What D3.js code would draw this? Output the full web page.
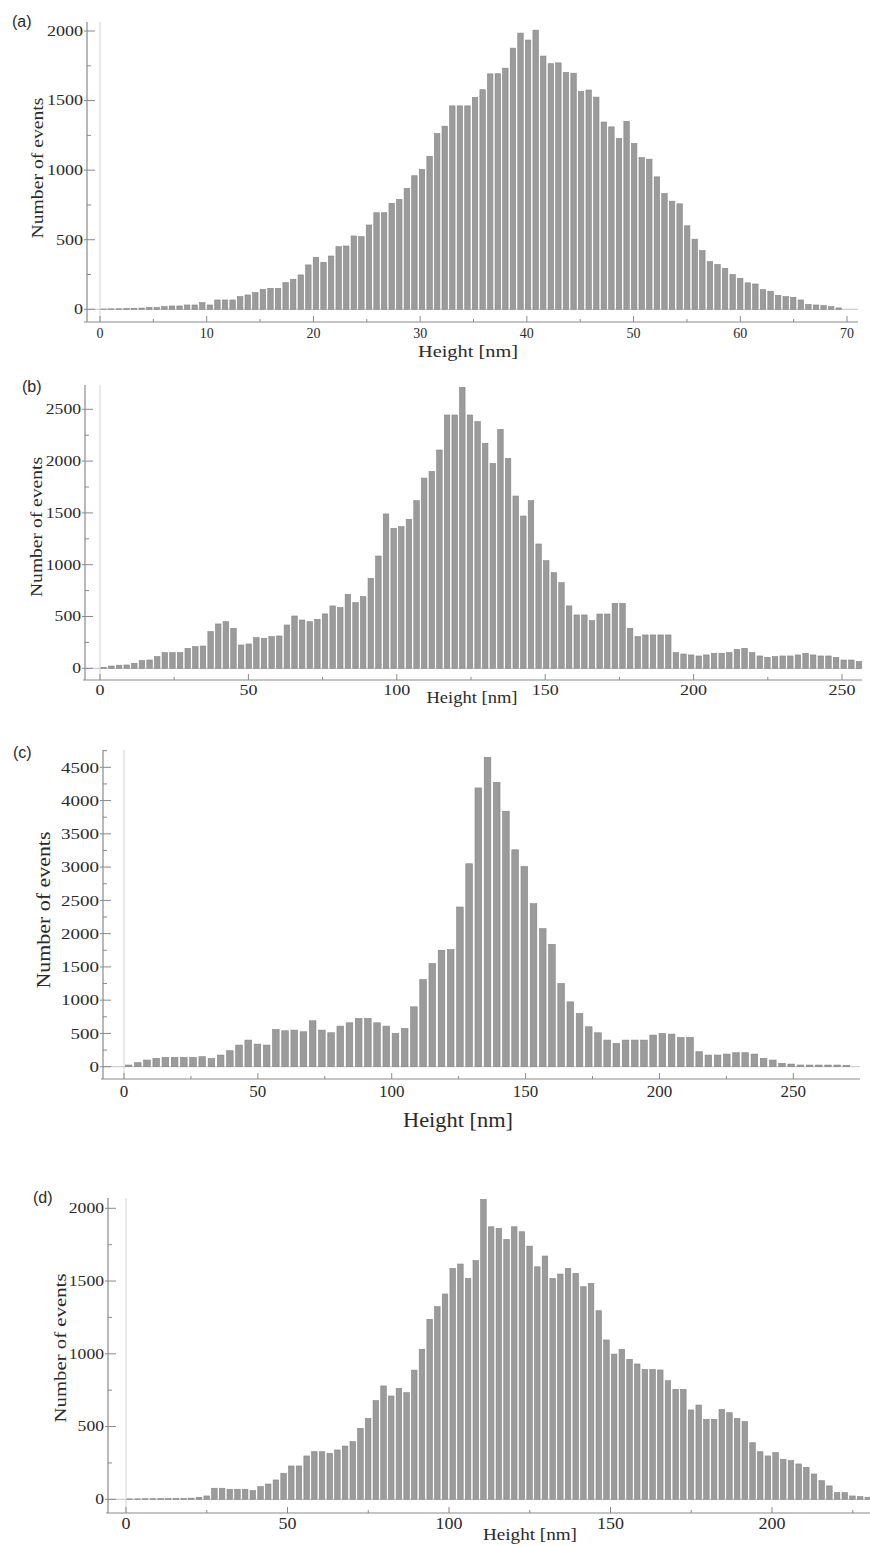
<!DOCTYPE html>
<html><head><meta charset="utf-8">
<script src="https://cdn.jsdelivr.net/npm/d3@7"></script>
<style>body{margin:0;background:#fff}svg{display:block}</style>
</head><body>
<svg id="chart" width="870" height="1546"></svg>
<script>
// ---------- data ----------
const countsA = [0,0,2,3,4,5,7,9,
 14,14,19,24,24,31,31,48,31,67,67,67,91,103,120,144,151,
 151,192,216,247,319,374,338,383,450,455,527,522,606,694,694,762,790,869,960,1005,1100,1263,1316,1462,1462,
 1462,1523,1578,1692,1693,1733,1877,1985,1935,2006,1820,1765,1771,1702,1697,1565,1576,1525,1346,1311,1228,1350,1192,1090,1079,
 952,832,777,758,600,504,422,343,322,295,250,223,190,182,141,130,100,91,86,67,35,31,27,19,10];
const countsB = [10,22,30,32,48,74,80,113,151,151,151,193,209,215,354,428,450,386,225,235,
 296,290,306,312,418,505,466,450,473,525,602,586,714,634,692,869,1084,1490,1351,1367,
 1438,1618,1836,1900,2107,2445,2445,2712,2445,2381,2171,1978,2307,2027,1663,1470,1618,1200,1039,923,
 827,602,515,515,460,524,524,627,627,386,306,322,322,322,322,151,138,129,119,129,
 145,145,151,183,193,151,119,106,113,119,119,129,145,129,119,119,106,80,80,64];
const countsC = [0,25,60,100,125,140,140,140,140,150,125,175,240,325,400,340,325,560,540,550,525,690,550,510,610,660,725,725,660,610,500,575,900,1310,1550,1750,
 1760,2400,3050,4190,4650,4275,3840,3260,3010,2450,2075,1840,1250,975,800,600,510,400,350,400,400,400,475,500,490,440,440,225,175,175,190,210,210,190,125,100,50,40,25,25,25,25,25,20];
const countsD = [3,3,4,4,5,5,6,6,8,
 14,23,76,76,69,69,69,60,87,105,133,179,229,229,298,327,327,316,339,366,396,488,556,678,779,710,763,733,888,1031,1237,1324,
 1411,1587,1617,1518,1640,2061,1873,1862,1786,1873,1839,1740,1598,1672,1518,1548,1587,1553,1461,1484,1296,1095,998,1031,962,930,893,893,889,815,756,756,614,648,550,550,618,595,556,534,389,327,298,321,275,266,243,220,174,128,92,46,46,23,18,14,
 10,8,5];

const binWidths = {a:0.71, b:2.57, c:3.4375, d:2.38};
const xTicksA = [0,10,20,30,40,50,60,70];
const yTicksA = [0,500,1000,1500,2000];
const xTicksB = [0,50,100,150,200,250];
const yTicksB = [0,500,1000,1500,2000,2500];
const xTicksC = [0,50,100,150,200,250];
const yTicksC = [0,500,1000,1500,2000,2500,3000,3500,4000,4500];
const xTicksD = [0,50,100,150,200];
const yTicksD = [0,500,1000,1500,2000];
const panelLetters = ["(a)","(b)","(c)","(d)"];
const xTitle = "Height [nm]";
const yTitle = "Number of events";

// ---------- layout ----------
const panels = [
 {data:countsA, bw:binWidths.a, xt:xTicksA, yt:yTicksA, xDom:[0,70], xR:[100,847], yDom:[0,2000], yR:[309.3,31],
  axL:87, axTop:22, axB:322, xStart:84, axR:858,
  letter:{x:12,y:27}, ytFont:14, ytPer:9, xtFont:14, xtPer:0, xtY:338,
  xLab:{cx:468,y:357,len:100,fs:17}, yLab:{cx:37,cy:168,len:141,fs:16}},
 {data:countsB, bw:binWidths.b, xt:xTicksB, yt:yTicksB, xDom:[0,250], xR:[100,842], yDom:[0,2500], yR:[668.3,409.3],
  axL:85, axTop:385, axB:680, xStart:83, axR:862,
  letter:{x:22,y:392}, ytFont:14, ytPer:8.8, xtFont:15, xtPer:9, xtY:695,
  xLab:{cx:472,y:703,len:91,fs:17}, yLab:{cx:36,cy:527,len:140,fs:16}},
 {data:countsC, bw:binWidths.c, xt:xTicksC, yt:yTicksC, xDom:[0,250], xR:[124,793.3], yDom:[0,4500], yR:[1066.7,767.3],
  axL:103, axTop:750, axB:1079, xStart:101, axR:860,
  letter:{x:13,y:758}, ytFont:15, ytPer:9.5, xtFont:17, xtPer:0, xtY:1097,
  xLab:{cx:458,y:1127,len:110,fs:21}, yLab:{cx:43,cy:910,len:157,fs:19}},
 {data:countsD, bw:binWidths.d, xt:xTicksD, yt:yTicksD, xDom:[0,200], xR:[126,772], yDom:[0,2000], yR:[1499.3,1208.3],
  axL:108, axTop:1198, axB:1513, xStart:106, axR:870,
  letter:{x:33,y:1203}, ytFont:14, ytPer:8.8, xtFont:16, xtPer:9, xtY:1529,
  xLab:{cx:530,y:1540,len:94,fs:16}, yLab:{cx:60,cy:1348,len:149,fs:16}}
];

const svg = d3.select("#chart");
svg.append("rect").attr("width",870).attr("height",1546).attr("fill","#fff");
const serif = "'Liberation Serif','Times New Roman',serif";
const sans = "'Liberation Sans',Arial,sans-serif";
const textCol = "#2a2a2a";
const axisCol = "#8a8a8a";

panels.forEach((p, pi) => {
  const g = svg.append("g");
  const x = d3.scaleLinear().domain(p.xDom).range(p.xR);
  const y = d3.scaleLinear().domain(p.yDom).range(p.yR);

  // faint zero lines
  g.append("line").attr("x1", x(0)).attr("x2", x(0)).attr("y1", p.axTop).attr("y2", p.axB)
    .attr("stroke", "#d4d4d4").attr("stroke-width", 1);
  g.append("line").attr("x1", p.axL).attr("x2", p.axR).attr("y1", y(0)).attr("y2", y(0))
    .attr("stroke", "#c4c4c4").attr("stroke-width", 1);

  // bars
  g.selectAll("rect.bar").data(p.data).join("rect").attr("class","bar")
    .filter(d => d > 0)
    .attr("x", (d,i) => { const x0 = x(i*p.bw), x1 = x((i+1)*p.bw); return x0 + (x1-x0)*0.14; })
    .attr("width", (d,i) => (x((i+1)*p.bw) - x(i*p.bw)) * 0.72)
    .attr("y", d => y(d))
    .attr("height", d => y(0) - y(d))
    .attr("fill", "#9b9b9b").attr("stroke", "#858585").attr("stroke-width", 0.6);

  // axes lines
  g.append("line").attr("x1", p.axL).attr("x2", p.axL).attr("y1", p.axTop).attr("y2", p.axB)
    .attr("stroke", axisCol).attr("stroke-width", 1.2);
  g.append("line").attr("x1", p.xStart).attr("x2", p.axR).attr("y1", p.axB).attr("y2", p.axB)
    .attr("stroke", axisCol).attr("stroke-width", 1.2);

  // x ticks (inward)
  const xStep = p.xt[1]-p.xt[0];
  const xMinor = p.xt.map(v => v + xStep/2).filter(v => x(v) < p.axR);
  g.selectAll("line.xt").data(p.xt).join("line")
    .attr("x1", d => x(d)).attr("x2", d => x(d)).attr("y1", p.axB).attr("y2", p.axB-6)
    .attr("stroke", axisCol);
  g.selectAll("line.xm").data(xMinor).join("line")
    .attr("x1", d => x(d)).attr("x2", d => x(d)).attr("y1", p.axB).attr("y2", p.axB-3)
    .attr("stroke", axisCol);
  g.selectAll("text.xtl").data(p.xt).join("text")
    .attr("x", d => x(d)).attr("y", p.xtY).attr("text-anchor","middle")
    .attr("font-family", serif).attr("font-size", p.xtFont).attr("fill", textCol)
    .each(function(d){ if (p.xtPer) { d3.select(this).attr("textLength", String(d).length*p.xtPer).attr("lengthAdjust","spacingAndGlyphs"); } })
    .text(d => d);

  // y ticks (inward)
  const yStep = p.yt[1]-p.yt[0];
  const yMinor = p.yt.map(v => v + yStep/2).filter(v => y(v) > p.axTop);
  g.selectAll("line.yt").data(p.yt).join("line")
    .attr("x1", p.axL-3).attr("x2", p.axL+8).attr("y1", d => y(d)).attr("y2", d => y(d))
    .attr("stroke", axisCol);
  g.selectAll("line.ym").data(yMinor).join("line")
    .attr("x1", p.axL).attr("x2", p.axL+4).attr("y1", d => y(d)).attr("y2", d => y(d))
    .attr("stroke", axisCol);
  g.selectAll("text.ytl").data(p.yt).join("text")
    .attr("x", p.axL-4).attr("y", d => y(d)).attr("dy","0.35em").attr("text-anchor","end")
    .attr("font-family", serif).attr("font-size", p.ytFont).attr("fill", textCol)
    .attr("textLength", d => String(d).length*p.ytPer).attr("lengthAdjust","spacingAndGlyphs")
    .text(d => d);

  // titles
  g.append("text").attr("x", p.xLab.cx).attr("y", p.xLab.y).attr("text-anchor","middle")
    .attr("font-family", serif).attr("font-size", p.xLab.fs).attr("fill", textCol)
    .attr("textLength", p.xLab.len).attr("lengthAdjust","spacingAndGlyphs")
    .text(xTitle);
  g.append("text").attr("transform", `translate(${p.yLab.cx},${p.yLab.cy}) rotate(-90)`)
    .attr("text-anchor","middle").attr("dy","0.35em")
    .attr("font-family", serif).attr("font-size", p.yLab.fs).attr("fill", textCol)
    .attr("textLength", p.yLab.len).attr("lengthAdjust","spacingAndGlyphs")
    .text(yTitle);
  g.append("text").attr("x", p.letter.x).attr("y", p.letter.y)
    .attr("font-family", sans).attr("font-size", 16).attr("fill", textCol)
    .text(panelLetters[pi]);
});
</script>
</body></html>
